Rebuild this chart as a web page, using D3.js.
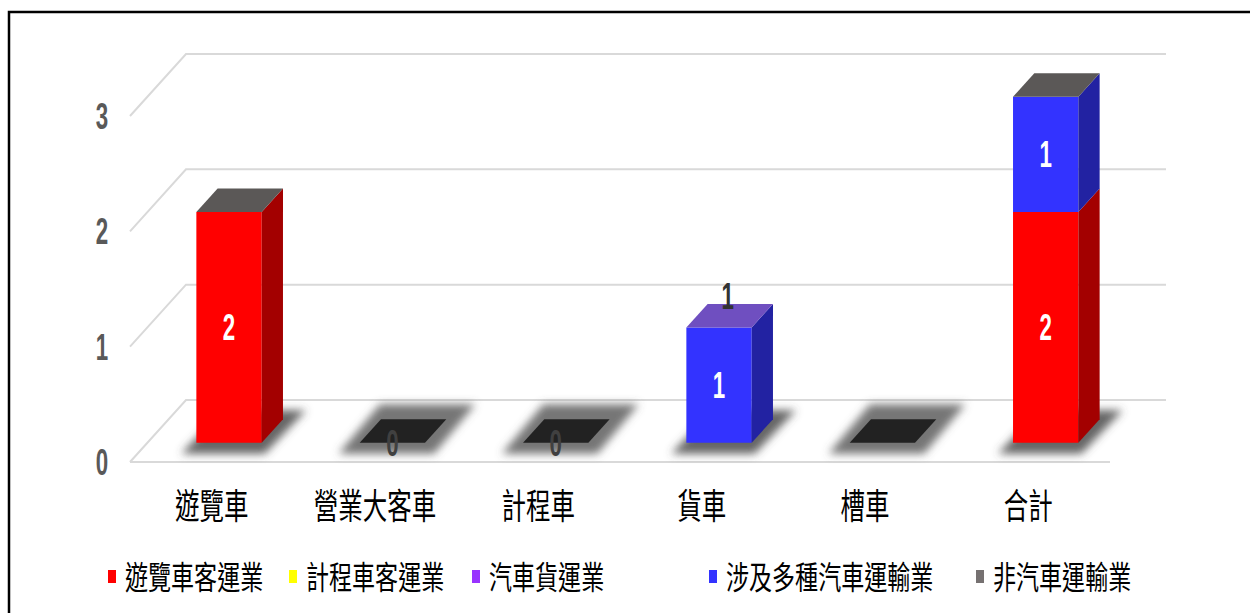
<!DOCTYPE html>
<html>
<head>
<meta charset="utf-8">
<script src="https://cdn.jsdelivr.net/npm/d3@7"></script>
<style>
  body { margin: 0; background: #fff; }
  svg { display: block; }
</style>
</head>
<body>
<svg id="chart" width="1250" height="613"></svg>
<script>
// ---- data ----
const categories = ["遊覽車", "營業大客車", "計程車", "貨車", "槽車", "合計"];
const seriesNames = ["遊覽車客運業", "計程車客運業", "汽車貨運業", "涉及多種汽車運輸業", "非汽車運輸業"];
const tourBusValues   = [2, 0, 0, null, null, 2];
const taxiValues      = [null, null, null, null, null, null];
const freightValues   = [null, null, null, null, null, null];
const multiModeValues = [null, null, null, 1, null, 1];
const nonMotorValues  = [null, null, null, null, null, null];
const yTicks = [0, 1, 2, 3];
// series whose lid closes each stack
const capSeries = ["非汽車運輸業", null, null, "汽車貨運業", null, "非汽車運輸業"];
// stacks that carry a total label above the lid
const totalLabelCats = ["貨車"];

const seriesValues = [tourBusValues, taxiValues, freightValues, multiModeValues, nonMotorValues];

// ---- styles ----
const shades = {
  "遊覽車客運業":     { front: "#ff0000", side: "#a30000", top: "#c40000", key: "#ff0000" },
  "計程車客運業":     { front: "#ffff00", side: "#a6a600", top: "#cccc00", key: "#ffff00" },
  "汽車貨運業":       { front: "#9933ff", side: "#5f20a8", top: "#6f4fc0", key: "#9933ff" },
  "涉及多種汽車運輸業": { front: "#3333ff", side: "#2222a2", top: "#2a2ac4", key: "#3333ff" },
  "非汽車運輸業":     { front: "#767171", side: "#4a4747", top: "#5b5857", key: "#767171" }
};
const cjkFont = "'Noto Sans CJK TC', 'Noto Sans CJK SC', sans-serif";
const numFont = "'Liberation Sans', Arial, sans-serif";

// ---- geometry ----
const svg = d3.select("#chart");
const x = d3.scaleBand().domain(categories).range([130, 1110]);
const y = d3.scaleLinear().domain([0, 3]).range([462, 116]);
const DX = 56, DY = -62;          // floor depth vector
const D0 = 0.31, D1 = 0.69;       // bar depth span inside the floor
const proj = (px, v, d) => [px + d * DX, y(v) + d * DY];

const defs = svg.append("defs");
defs.append("filter").attr("id", "soft").attr("x", "-50%").attr("y", "-50%")
  .attr("width", "200%").attr("height", "200%")
  .append("feGaussianBlur").attr("stdDeviation", 4.5);

// outer frame
svg.append("rect").attr("x", 9).attr("y", 12).attr("width", 1300).attr("height", 700)
  .attr("fill", "none").attr("stroke", "#000").attr("stroke-width", 2.5);

// ---- gridlines on the back wall and side ----
const grid = svg.append("g").attr("fill", "none").attr("stroke", "#d9d9d9").attr("stroke-width", 2);
const x0 = x.range()[0], x1 = x.range()[1];
yTicks.forEach(t => {
  const a = proj(x0, t, 0), b = proj(x0, t, 1), c = proj(x1, t, 1);
  grid.append("path").attr("d", d3.line()([a, b, c]));
});
grid.append("path").attr("d", d3.line()([proj(x0, 0, 0), proj(x1, 0, 0)]));

// ---- y axis labels ----
svg.append("g").selectAll("text").data(yTicks).join("text")
  .attr("transform", d => `translate(102,${y(d) + 13}) scale(0.62,1)`)
  .attr("text-anchor", "middle")
  .attr("font-family", numFont).attr("font-weight", "bold").attr("font-size", 36)
  .attr("fill", "#595959")
  .text(d => d);

// ---- stacks ----
const rows = categories.map((c, i) => {
  let acc = 0;
  const segs = seriesNames.map((s, k) => {
    const v = seriesValues[k][i];
    const y0 = acc; acc += (v || 0);
    return { series: s, value: v, y0, y1: acc };
  });
  return { cat: c, segs, total: acc, cap: capSeries[i] };
});

const barW = x.bandwidth() * 0.4;
const quad = pts => d3.line()(pts) + "Z";

// floor shadows
const shadowG = svg.append("g").attr("filter", "url(#soft)");
rows.forEach(r => {
  const l = x(r.cat) + x.bandwidth() * 0.3, rr = l + barW;
  const pad = r.total > 0 ? 9 : 15;
  const p = [
    [l - pad - 6, y(0) + D0 * DY + 11],
    [rr + pad - 6, y(0) + D0 * DY + 11],
    [rr + pad + (D1 - D0) * DX + 14, y(0) + D1 * DY - pad],
    [l - pad + (D1 - D0) * DX + 14, y(0) + D1 * DY - pad]
  ].map(([px, py]) => [px + D0 * DX, py]);
  shadowG.append("path").attr("d", quad(p))
    .attr("fill", r.total > 0 ? "#4a4a4a" : "#5e5e5e").attr("opacity", 0.85);
});

// bars
const barG = svg.append("g");
rows.forEach(r => {
  const l = x(r.cat) + x.bandwidth() * 0.3, rr = l + barW;
  if (r.total === 0) {
    barG.append("path").attr("d", quad([proj(l, 0, D0), proj(rr, 0, D0), proj(rr, 0, D1), proj(l, 0, D1)]))
      .attr("fill", "#222");
    return;
  }
  r.segs.forEach(s => {
    if (!s.value) return;
    const sh = shades[s.series];
    barG.append("path")
      .attr("d", quad([proj(l, s.y0, D0), proj(rr, s.y0, D0), proj(rr, s.y1, D0), proj(l, s.y1, D0)]))
      .attr("fill", sh.front);
    barG.append("path")
      .attr("d", quad([proj(rr, s.y0, D0), proj(rr, s.y0, D1), proj(rr, s.y1, D1), proj(rr, s.y1, D0)]))
      .attr("fill", sh.side);
  });
  const capColor = r.cap ? shades[r.cap].top : "#444";
  barG.append("path")
    .attr("d", quad([proj(l, r.total, D0), proj(rr, r.total, D0), proj(rr, r.total, D1), proj(l, r.total, D1)]))
    .attr("fill", capColor);
});

// value labels in the middle of each segment's front face
const labelG = svg.append("g")
  .attr("font-family", numFont).attr("font-weight", "bold").attr("font-size", 36)
  .attr("text-anchor", "middle");
rows.forEach(r => {
  const cx = x(r.cat) + x.bandwidth() * 0.5;
  r.segs.forEach(s => {
    if (s.value === null || s.value === undefined) return;
    const [px, py] = proj(cx, (s.y0 + s.y1) / 2, D0);
    labelG.append("text")
      .attr("transform", `translate(${px},${py + 13}) scale(0.62,1)`)
      .attr("fill", s.value > 0 ? "#fff" : "#404040")
      .text(s.value);
  });
  if (totalLabelCats.includes(r.cat)) {
    const [px, py] = proj(cx, r.total, (D0 + D1) / 2);
    labelG.append("text")
      .attr("transform", `translate(${px - 2},${py - 7}) scale(0.62,1)`)
      .attr("fill", "#333")
      .text(r.total);
  }
});

// ---- category labels ----
svg.append("g").selectAll("text").data(categories).join("text")
  .attr("transform", d => `translate(${x(d) + x.bandwidth() / 2},${519}) scale(0.7,1)`)
  .attr("text-anchor", "middle")
  .attr("font-family", cjkFont).attr("font-size", 35).attr("fill", "#000")
  .text(d => d);

// ---- legend ----
const legendX = [108, 289, 472, 709, 976];
const legend = svg.append("g");
seriesNames.forEach((s, k) => {
  legend.append("rect").attr("x", legendX[k]).attr("y", 570).attr("width", 8).attr("height", 13)
    .attr("fill", shades[s].key);
  legend.append("text")
    .attr("transform", `translate(${legendX[k] + 17},${589}) scale(0.72,1)`)
    .attr("font-family", cjkFont).attr("font-size", 32).attr("fill", "#000")
    .text(s);
});
</script>
</body>
</html>
